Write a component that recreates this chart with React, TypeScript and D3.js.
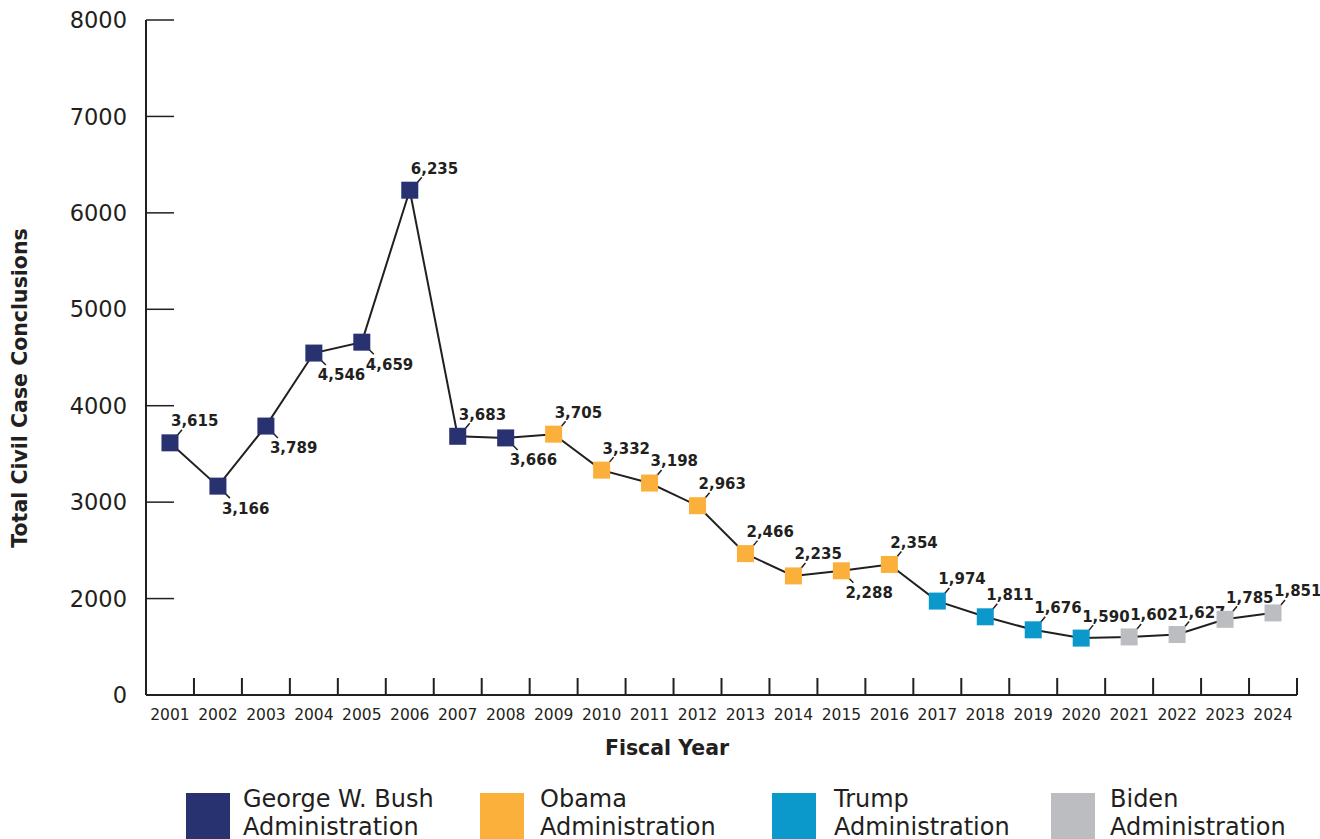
import React from "react";
import * as d3 from "d3";

const years = ["2001","2002","2003","2004","2005","2006","2007","2008","2009","2010","2011","2012","2013","2014","2015","2016","2017","2018","2019","2020","2021","2022","2023","2024"];
const conclusions = [3615,3166,3789,4546,4659,6235,3683,3666,3705,3332,3198,2963,2466,2235,2288,2354,1974,1811,1676,1590,1602,1627,1785,1851];
const administration = ["Bush","Bush","Bush","Bush","Bush","Bush","Bush","Bush","Obama","Obama","Obama","Obama","Obama","Obama","Obama","Obama","Trump","Trump","Trump","Trump","Biden","Biden","Biden","Biden"];
const labelSide = ["up","down","down","down","down","up","up","down","up","up","up","up","up","up","down","up","up","up","up","up","up","up","up","up"];
const yTickValues = [1000,2000,3000,4000,5000,6000,7000,8000];
const yTickLabels = ["0","2000","3000","4000","5000","6000","7000","8000"];
const adminKeys = ["Bush","Obama","Trump","Biden"];
const adminLabels = [["George W. Bush","Administration"],["Obama","Administration"],["Trump","Administration"],["Biden","Administration"]];
const adminColors = ["#283270","#fbb03b","#0b99cc","#bcbdc0"];

const FONT = "'DejaVu Sans', sans-serif";
const INK = "#231f20";

export default function App() {
  const W = 1320, H = 839;
  const left = 146, right = 1297, top = 20, bottom = 695;
  const x = d3.scaleBand<string>().domain(years).range([left, right]).padding(0);
  const y = d3.scaleLinear().domain([1000, 8000]).range([bottom, top]);
  const color = d3.scaleOrdinal<string, string>().domain(adminKeys).range(adminColors);
  const cx = (i: number) => (x(years[i]) as number) + x.bandwidth() / 2;
  const cy = (i: number) => y(conclusions[i]);
  const line = d3.line<number>().x((_, i) => cx(i)).y((_, i) => cy(i));
  const ms = 17;
  const legendSq = [186, 480, 772, 1051];
  const legendTx = [243, 540, 834, 1110];

  return (
    <svg width={W} height={H} style={{ position: "absolute", left: 0, top: 0, background: "#fff" }} fontFamily={FONT}>
      {/* y axis */}
      <line x1={left} x2={left} y1={top} y2={bottom} stroke={INK} strokeWidth={2} />
      {yTickValues.map((v, i) => (
        <g key={v}>
          <line x1={left} x2={left + 28} y1={y(v)} y2={y(v)} stroke={INK} strokeWidth={1.5} />
          <text x={127} y={y(v)} dy="0.36em" textAnchor="end" fontSize={22.5} fill={INK}>{yTickLabels[i]}</text>
        </g>
      ))}
      {/* x axis */}
      <line x1={left} x2={right} y1={bottom} y2={bottom} stroke={INK} strokeWidth={2} />
      {years.map((yr) => (
        <g key={yr}>
          <line x1={(x(yr) as number) + x.bandwidth()} x2={(x(yr) as number) + x.bandwidth()} y1={bottom} y2={bottom - 17} stroke={INK} strokeWidth={2} />
          <text x={(x(yr) as number) + x.bandwidth() / 2} y={720} textAnchor="middle" fontSize={15.5} fill={INK}>{yr}</text>
        </g>
      ))}
      {/* titles */}
      <text x={667} y={755} textAnchor="middle" fontSize={20.5} fontWeight="bold" fill={INK}>Fiscal Year</text>
      <text transform={`translate(27,388) rotate(-90)`} textAnchor="middle" fontSize={20.5} fontWeight="bold" fill={INK}>Total Civil Case Conclusions</text>
      {/* line */}
      <path d={line(conclusions) as string} fill="none" stroke={INK} strokeWidth={2} />
      {/* markers and labels */}
      {conclusions.map((v, i) => {
        const px = cx(i), py = cy(i);
        const up = labelSide[i] === "up";
        return (
          <g key={i}>
            {up ? (
              <line x1={px + 7} y1={py - 7} x2={px + 12} y2={py - 13} stroke={INK} strokeWidth={1.5} />
            ) : (
              <line x1={px + 7} y1={py + 7} x2={px + 12} y2={py + 12} stroke={INK} strokeWidth={1.5} />
            )}
            <rect x={px - ms / 2} y={py - ms / 2} width={ms} height={ms} fill={color(administration[i])} />
            <text x={up ? px + 1 : px + 4} y={up ? py - 22 : py + 22} dy="0.36em" fontSize={15} fontWeight="bold" fill={INK}>{d3.format(",")(v)}</text>
          </g>
        );
      })}
      {/* legend */}
      {adminKeys.map((k, i) => (
        <g key={k}>
          <rect x={legendSq[i]} y={793} width={44} height={50} fill={color(k)} />
          <text x={legendTx[i]} y={807} fontSize={24} fill={INK}>{adminLabels[i][0]}</text>
          <text x={legendTx[i]} y={835} fontSize={24} fill={INK}>{adminLabels[i][1]}</text>
        </g>
      ))}
    </svg>
  );
}
